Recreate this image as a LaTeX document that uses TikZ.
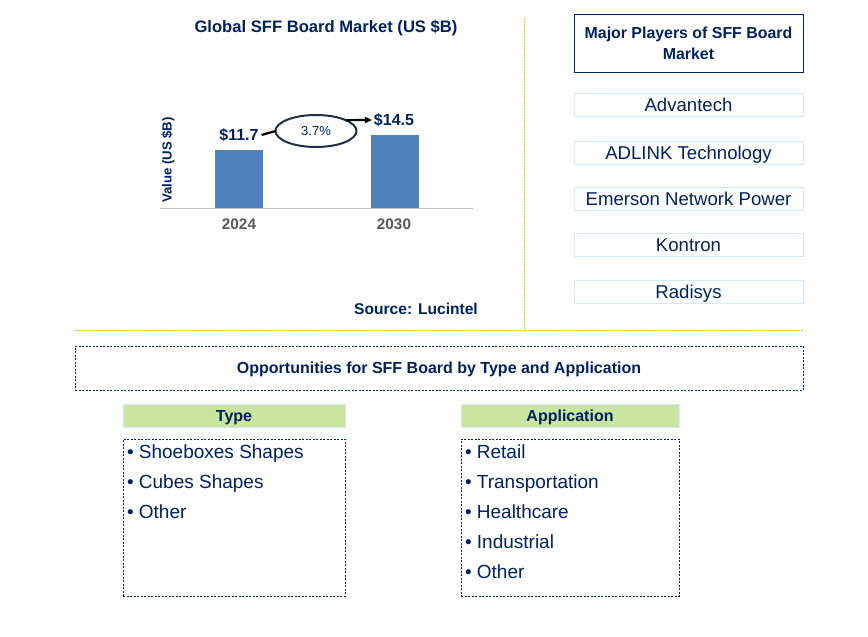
\documentclass[tikz,border=0pt]{standalone}
\usepackage{fontspec}
\setmainfont{Liberation Sans}
\usetikzlibrary{arrows.meta,shapes.geometric}
\definecolor{navy}{HTML}{002060}
\definecolor{barblue}{HTML}{4F81BD}
\definecolor{gold}{HTML}{FFC000}
\definecolor{lblue}{HTML}{D5EAF5}
\definecolor{hdrgreen}{HTML}{C9E5A0}
\definecolor{yeargray}{HTML}{595959}
\definecolor{ellcol}{HTML}{1F3044}
\tikzset{
  every node/.style={inner sep=0pt, outer sep=0pt},
  txt/.style={text=navy},
  capc/.style={text height=#1, text depth=0pt},
  bar/.style={fill=barblue, draw=none},
  player/.style={draw=lblue, line width=1pt, minimum width=229pt, minimum height=23pt, text=navy, font=\fontsize{18.6}{20}\selectfont, capc=13.4pt},
  hdr/.style={draw=lblue, line width=1pt, fill=hdrgreen, text=navy, font=\bfseries\fontsize{16}{18}\selectfont, capc=11.5pt},
  listbox/.style={draw=navy, line width=0.8pt, dash pattern=on 2pt off 1.5pt},
  item/.style={text=navy, anchor=west, font=\fontsize{19}{21}\selectfont, capc=13.7pt},
  sep/.style={draw=gold, line width=0.8pt, dash pattern=on 2pt off 1pt},
  growarrow/.style={-{Triangle[length=7pt,width=6pt]}, line width=2.2pt, black}
}
\begin{document}
\begin{tikzpicture}[x=1pt,y=-1pt]
\useasboundingbox (0,0) rectangle (868,637);
% separators
\draw[sep] (524,18) -- (524,330);
\draw[sep] (75,330) -- (803,330);
% chart
\node[txt, font=\bfseries\fontsize{16.6}{18}\selectfont, capc=12pt] (title) at (326,26) {Global SFF Board Market (US \$B)};
\draw[draw=black!20, line width=1pt] (160,208) -- (473,208);
\fill[bar] (215,150) rectangle (263,208);
\fill[bar] (371,135) rectangle (419,208);
\node[txt, rotate=90, font=\bfseries\fontsize{13.2}{15}\selectfont] (ylab) at (168,160) {Value (US \$B)};
\node[txt, font=\bfseries\fontsize{16}{18}\selectfont, capc=11.5pt] (v1) at (239,135) {\$11.7};
\node[txt, font=\bfseries\fontsize{16}{18}\selectfont, capc=11.5pt] (v2) at (394,120) {\$14.5};
\node[text=yeargray, font=\bfseries\fontsize{15.3}{17}\selectfont, capc=11pt] (y1) at (239,224) {2024};
\node[text=yeargray, font=\bfseries\fontsize{15.3}{17}\selectfont, capc=11pt] (y2) at (394,224) {2030};
\node[draw=ellcol, line width=2pt, ellipse, minimum width=81pt, minimum height=32pt, text=navy, font=\fontsize{13}{15}\selectfont] (cagr) at (316,131) {3.7\%};
\draw[line width=2.2pt, black] ([xshift=3pt]v1.east) -- (cagr.west);
\draw[growarrow] (cagr.20) -- ([xshift=-2pt]v2.west);
\node[txt, font=\bfseries\fontsize{15.6}{17}\selectfont, capc=11.2pt] (src) at (416,309) {Source: Lucintel};
% players
\node[draw=navy, line width=1pt, minimum width=229pt, minimum height=58pt, align=center, text=navy, font=\bfseries\fontsize{15.9}{21}\selectfont] (mp) at (688.5,43) {Major Players of SFF Board\\Market};
\node[player] (p1) at (688.5,104.5) {Advantech};
\node[player] (p2) at (688.5,152.5) {ADLINK Technology};
\node[player] (p3) at (688.5,198.5) {Emerson Network Power};
\node[player] (p4) at (688.5,244.5) {Kontron};
\node[player] (p5) at (688.5,291.5) {Radisys};
% opportunities
\node[listbox, minimum width=728pt, minimum height=44pt, text=navy, font=\bfseries\fontsize{16}{18}\selectfont, capc=11.5pt] (opp) at (439,368) {Opportunities for SFF Board by Type and Application};
\node[hdr, minimum width=222pt, minimum height=23pt] (th) at (234,415.5) {Type};
\node[hdr, minimum width=218pt, minimum height=23pt] (ah) at (570,415.5) {Application};
\node[listbox, minimum width=222pt, minimum height=157pt] (tl) at (234,517.5) {};
\node[listbox, minimum width=218pt, minimum height=157pt] (al) at (570,517.5) {};
\node[item] (t1) at (127,452) {\textbullet\ Shoeboxes Shapes};
\node[item] (t2) at (127,482) {\textbullet\ Cubes Shapes};
\node[item] (t3) at (127,512) {\textbullet\ Other};
\node[item] (a1) at (465,452) {\textbullet\ Retail};
\node[item] (a2) at (465,482) {\textbullet\ Transportation};
\node[item] (a3) at (465,512) {\textbullet\ Healthcare};
\node[item] (a4) at (465,542) {\textbullet\ Industrial};
\node[item] (a5) at (465,572) {\textbullet\ Other};
\end{tikzpicture}
\end{document}
